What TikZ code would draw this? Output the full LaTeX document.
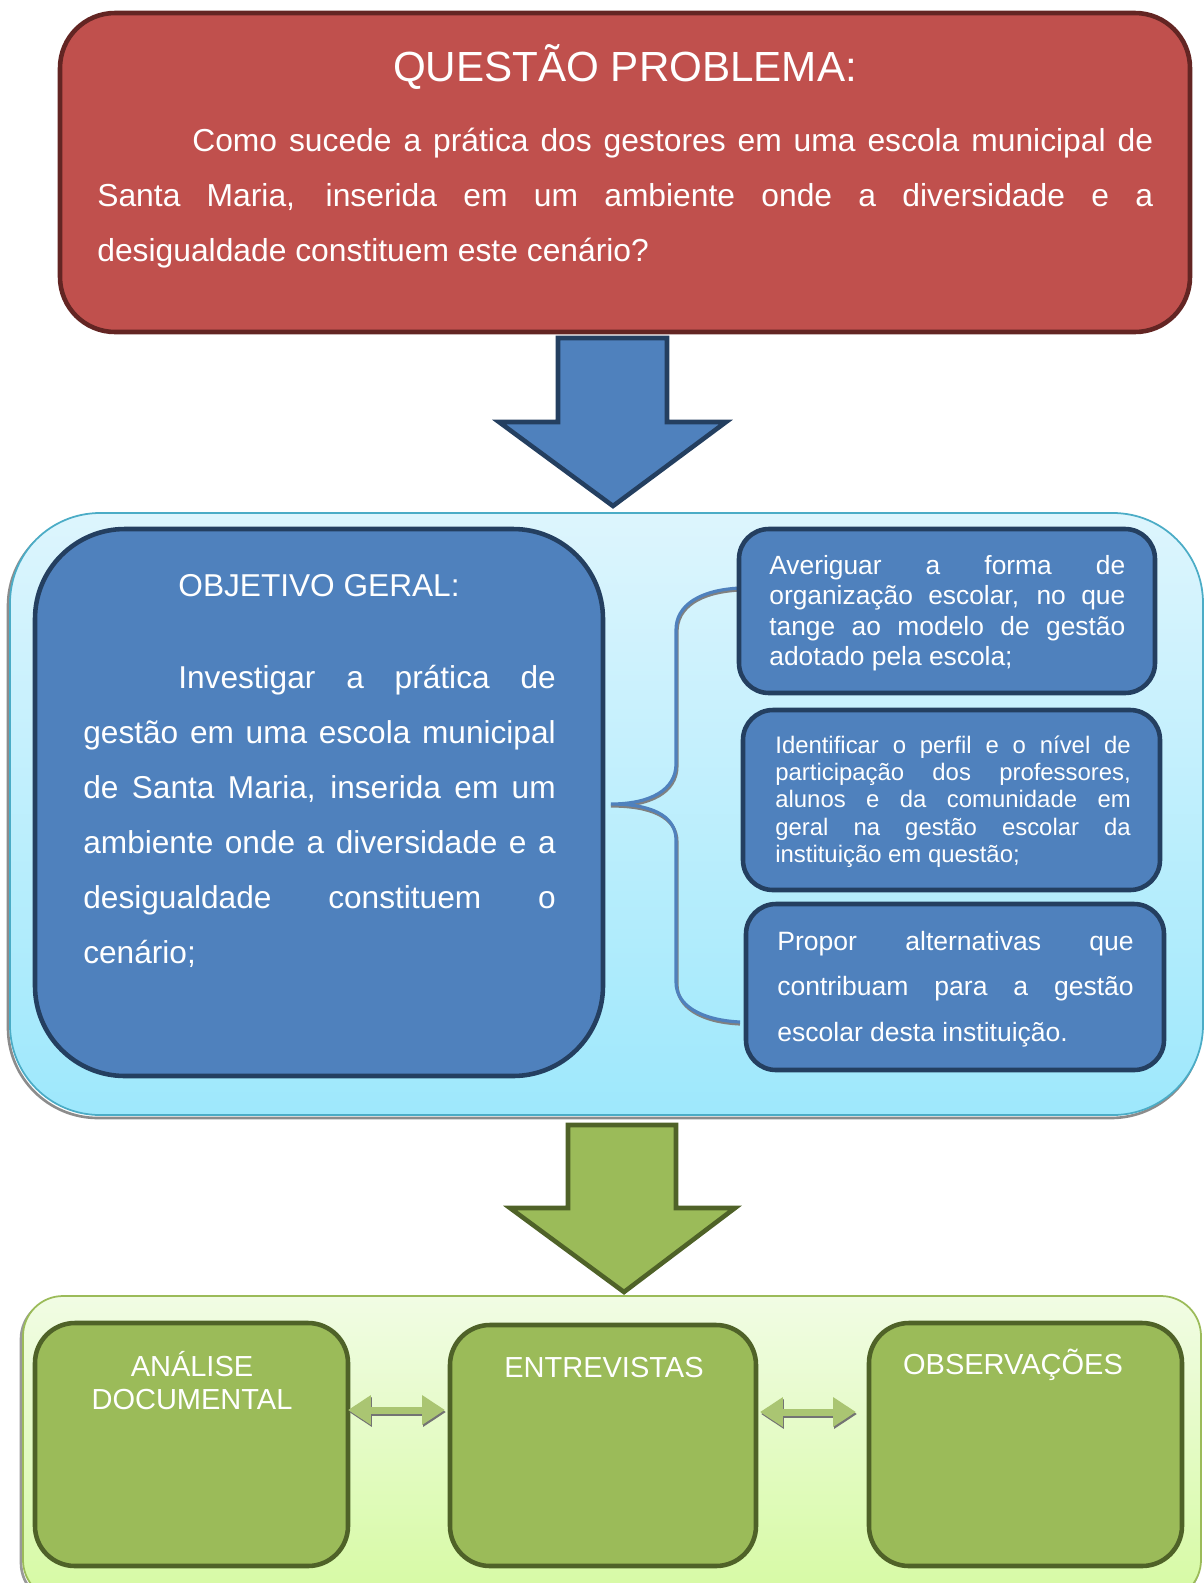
\documentclass[tikz,border=0pt]{standalone}
\usepackage{fontspec}
\setmainfont{Liberation Sans}
\usetikzlibrary{arrows.meta,calc}

\definecolor{probred}{HTML}{C0504D}
\definecolor{probredline}{HTML}{632523}
\definecolor{objblue}{HTML}{4F81BD}
\definecolor{objblueline}{HTML}{243F60}
\definecolor{skytop}{HTML}{DDF5FD}
\definecolor{skybottom}{HTML}{9EE8FC}
\definecolor{skyline}{HTML}{4BACC6}
\definecolor{metgreen}{HTML}{9BBB59}
\definecolor{metgreenline}{HTML}{4F6228}
\definecolor{limetop}{HTML}{F1FCE4}
\definecolor{limebottom}{HTML}{D6FAA3}

\tikzset{
  panel/.style={line width=2.6pt},
  heading/.style={text=white, inner sep=0pt},
  body/.style={text=white, inner sep=0pt, align=justify, anchor=base west,
    execute at begin node={\hyphenpenalty=10000\tolerance=9999}},
  pairarrow/.style={line width=4pt, {Triangle[width=16pt,length=13pt]}-{Triangle[width=16pt,length=13pt]}}
}

\begin{document}
\begin{tikzpicture}[x=0.02cm, y=-0.02cm]
  \useasboundingbox (0,0) rectangle (1204,1583);
  % Coordinates
  \coordinate (Q1) at (60,13);
  \coordinate (Q2) at (1190,332);
  \coordinate (S1) at (10,513);
  \coordinate (S2) at (1203,1115);
  \coordinate (O1) at (35,529);
  \coordinate (O2) at (603,1076);
  \coordinate (A1) at (739,529);
  \coordinate (A2) at (1155,693);
  \coordinate (B1) at (743,710);
  \coordinate (B2) at (1160,890);
  \coordinate (C1) at (746,904);
  \coordinate (C2) at (1164,1070);
  \coordinate (L1) at (23,1296);
  \coordinate (L2) at (1201,1600);
  \coordinate (G1) at (35,1323);
  \coordinate (G2) at (348,1566);
  \coordinate (H1) at (450,1325);
  \coordinate (H2) at (756,1566);
  \coordinate (K1) at (869,1323);
  \coordinate (K2) at (1182,1566);
  \coordinate (brtop) at (740,588);
  \coordinate (brtip) at (611,804);
  \coordinate (brbot) at (740,1022);
  \coordinate (pl1) at (348,1410);
  \coordinate (pr1) at (445,1410);
  \coordinate (pl2) at (760,1412);
  \coordinate (pr2) at (856,1412);

  % Drawing
  \draw[panel, fill=probred, draw=probredline, rounded corners=1.1cm] (Q1) rectangle (Q2);
  \node[heading, font=\fontsize{24}{29}\selectfont, anchor=base] (qtitle) at (625,81) {QUESTÃO PROBLEMA:};
  \node[body, text width=21.12cm, font=\fontsize{18.1}{31.4}\selectfont] (qtext) at (97,151)
    {\hspace*{1.9cm}Como sucede a prática dos gestores em uma escola municipal de\linebreak
     Santa Maria, inserida em um ambiente onde a diversidade e a\linebreak
     desigualdade constituem este cenário?};

  \draw[panel, fill=objblue, draw=objblueline, line join=miter]
    (558,338) -- (667,338) -- (667,422) -- (726,422) -- (613,506) -- (499,422) -- (558,422) -- cycle;

  \draw[black!45, line width=1.5pt, rounded corners=1.8cm] ($(S1)+(-2,3)$) rectangle ($(S2)+(-2,3)$);
  \draw[skyline, line width=1pt, top color=skytop, bottom color=skybottom, rounded corners=1.8cm] (S1) rectangle (S2);

  \draw[panel, fill=objblue, draw=objblueline, rounded corners=1.8cm] (O1) rectangle (O2);
  \node[heading, font=\fontsize{18}{22}\selectfont, anchor=base] (otitle) at (319,596) {OBJETIVO GERAL:};
  \node[body, text width=9.45cm, font=\fontsize{18}{31.4}\selectfont] (otext) at (83,688)
    {\hspace*{1.9cm}Investigar a prática de\linebreak
     gestão em uma escola municipal\linebreak
     de Santa Maria, inserida em um\linebreak
     ambiente onde a diversidade e a\linebreak
     desigualdade constituem o\linebreak
     cenário;};

  \draw[black!50, line width=1.8pt] ($(brtop)+(0,2)$) .. controls (700,592) and (677,607) .. (677,632) -- (677,766)
    .. controls (677,792) and (651,806) .. ($(brtip)+(0,2)$) .. controls (651,806) and (677,817) .. (677,842)
    -- (677,984) .. controls (677,1007) and (700,1022) .. ($(brbot)+(0,2)$);
  \draw[objblue, line width=1.8pt] (brtop) .. controls (700,590) and (676,605) .. (676,630) -- (676,764)
    .. controls (676,790) and (650,804) .. (brtip) .. controls (650,804) and (676,815) .. (676,840)
    -- (676,982) .. controls (676,1005) and (700,1020) .. (brbot);

  \draw[panel, fill=objblue, draw=objblueline, rounded corners=0.6cm] (A1) rectangle (A2);
  \node[body, text width=7.12cm, font=\fontsize{15}{17.4}\selectfont] (atext) at (769,574)
    {Averiguar a forma de\linebreak
     organização escolar, no que\linebreak
     tange ao modelo de gestão\linebreak
     adotado pela escola;};
  \draw[panel, fill=objblue, draw=objblueline, rounded corners=0.6cm] (B1) rectangle (B2);
  \node[body, text width=7.11cm, font=\fontsize{13.6}{15.6}\selectfont] (btext) at (775,753)
    {Identificar o perfil e o nível de\linebreak
     participação dos professores,\linebreak
     alunos e da comunidade em\linebreak
     geral na gestão escolar da\linebreak
     instituição em questão;};
  \draw[panel, fill=objblue, draw=objblueline, rounded corners=0.6cm] (C1) rectangle (C2);
  \node[body, text width=7.13cm, font=\fontsize{15.1}{26}\selectfont] (ctext) at (777,950)
    {Propor alternativas que\linebreak
     contribuam para a gestão\linebreak
     escolar desta instituição.};

  \draw[panel, fill=metgreen, draw=metgreenline, line join=miter]
    (568,1125) -- (676,1125) -- (676,1208) -- (735,1208) -- (624,1292) -- (510,1208) -- (568,1208) -- cycle;

  \draw[black!40, line width=1.5pt, rounded corners=0.8cm] ($(L1)+(-2,3)$) rectangle ($(L2)+(-2,3)$);
  \draw[metgreen, line width=1pt, top color=limetop, bottom color=limebottom, rounded corners=0.8cm] (L1) rectangle (L2);

  \draw[panel, fill=metgreen, draw=metgreenline, rounded corners=0.8cm] (G1) rectangle (G2);
  \draw[panel, fill=metgreen, draw=metgreenline, rounded corners=0.8cm] (H1) rectangle (H2);
  \draw[panel, fill=metgreen, draw=metgreenline, rounded corners=0.8cm] (K1) rectangle (K2);
  \node[heading, text width=6cm, align=center, font=\fontsize{16.5}{18.9}\selectfont, anchor=base] (analise) at (192,1376) {ANÁLISE\\DOCUMENTAL};
  \node[heading, font=\fontsize{16.5}{18.9}\selectfont, anchor=base] (entrev) at (604,1377) {ENTREVISTAS};
  \node[heading, font=\fontsize{16.5}{18.9}\selectfont, anchor=base] (observ) at (1013,1374) {OBSERVAÇÕES};

  \draw[pairarrow, black!55] ($(pl1)+(1,2)$) -- ($(pr1)+(1,2)$);
  \draw[pairarrow, metgreen!85!white] (pl1) -- (pr1);
  \draw[pairarrow, black!55] ($(pl2)+(1,2)$) -- ($(pr2)+(1,2)$);
  \draw[pairarrow, metgreen!85!white] (pl2) -- (pr2);
\end{tikzpicture}
\end{document}
